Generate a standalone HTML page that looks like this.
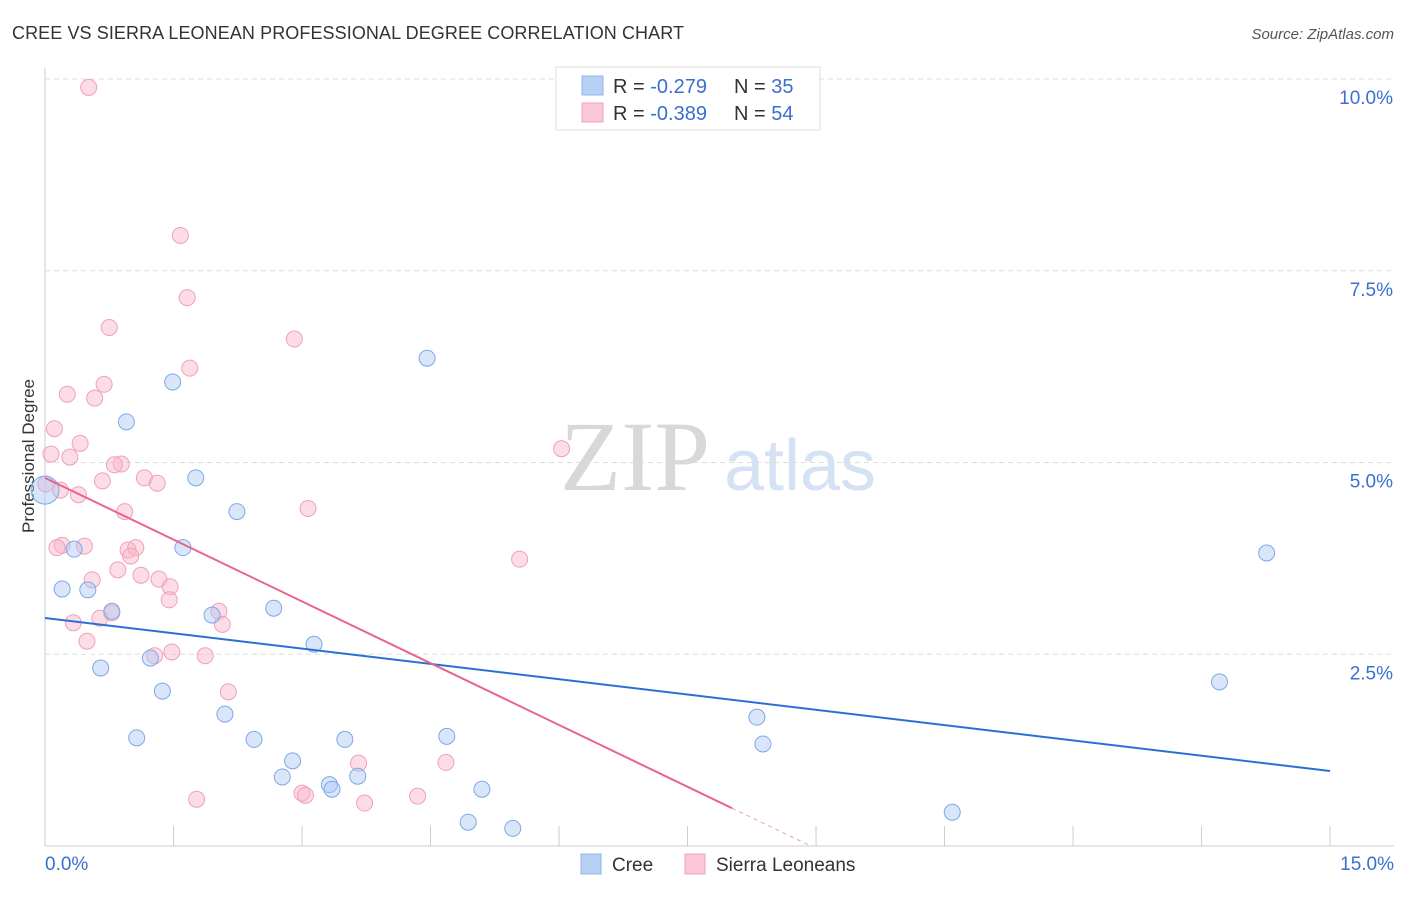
<!DOCTYPE html>
<html><head><meta charset="utf-8"><style>
body{margin:0;background:#fff;font-family:"Liberation Sans",sans-serif;}
</style></head><body>
<svg id="chart" width="1406" height="892" font-family="Liberation Sans, sans-serif">
<text x="12" y="39" font-size="18" fill="#333" textLength="672">CREE VS SIERRA LEONEAN PROFESSIONAL DEGREE CORRELATION CHART</text>
<text x="1394" y="39" font-size="15" fill="#555" font-style="italic" text-anchor="end">Source: ZipAtlas.com</text>
<text x="34" y="456" font-size="17" fill="#333" text-anchor="middle" transform="rotate(-90 34 456)">Professional Degree</text>
<g><text x="635" y="490" font-size="100" fill="#d8d8d8" style="font-family:'Liberation Serif',serif" text-anchor="middle">ZIP</text><text x="800" y="490" font-size="72" fill="#d4e2f4" text-anchor="middle">atlas</text></g>
<g id="grid"></g><g id="marks"></g>
<g>
<rect x="556" y="67" width="264" height="63" fill="#fff" stroke="#ddd"/>
<rect x="582" y="76" width="21" height="19" fill="#b7d1f5" stroke="#8fb5ea"/>
<rect x="582" y="103" width="21" height="19" fill="#fbc8d7" stroke="#f0a0b9"/>
<text x="613" y="93" font-size="20" fill="#333">R = <tspan fill="#3a6fd0">-0.279</tspan></text>
<text x="734" y="93" font-size="20" fill="#333">N = <tspan fill="#3a6fd0">35</tspan></text>
<text x="613" y="120" font-size="20" fill="#333">R = <tspan fill="#3a6fd0">-0.389</tspan></text>
<text x="734" y="120" font-size="20" fill="#333">N = <tspan fill="#3a6fd0">54</tspan></text>
</g>
<g>
<rect x="581" y="854" width="20" height="20" fill="#b7d1f5" stroke="#8fb5ea"/><text x="612" y="871" font-size="19" fill="#333">Cree</text>
<rect x="685" y="854" width="20" height="20" fill="#fbc8d7" stroke="#f0a0b9"/><text x="716" y="871" font-size="19" fill="#333">Sierra Leoneans</text>
</g>
</svg>
<script>
const yTicks=[2.5,5,7.5,10];
const yTickLabels=["2.5%","5.0%","7.5%","10.0%"];
const xTicks=[0,1.5,3,4.5,6,7.5,9,10.5,12,13.5,15];
const creeX=[0,0.2,0.34,0.5,0.65,0.78,0.95,1.07,1.23,1.37,1.49,1.61,1.76,1.95,2.1,2.24,2.44,2.67,2.77,2.89,3.14,3.32,3.35,3.5,3.65,4.46,4.69,4.94,5.1,5.46,8.31,8.38,10.59,13.71,14.26];
const creeY=[4.64,3.35,3.87,3.34,2.32,3.06,5.53,1.41,2.45,2.02,6.05,3.89,4.8,3.01,1.72,4.36,1.39,3.1,0.9,1.11,2.63,0.8,0.74,1.39,0.91,6.36,1.43,0.31,0.74,0.23,1.68,1.33,0.44,2.14,3.82];
const slX=[0.51,1.58,1.66,0.75,2.91,1.69,0.69,0.26,0.58,0.11,0.41,0.07,0.29,6.03,0.89,0.81,1.16,0.67,1.31,0.01,0.18,0.39,0.93,3.07,0.2,0.46,0.14,0.97,1.06,1.0,5.54,0.85,1.12,0.55,1.33,1.46,2.03,0.78,1.45,0.64,0.33,2.07,0.49,1.48,1.28,1.87,2.14,3.66,4.68,3.0,3.04,4.35,1.77,3.73];
const slY=[9.89,7.96,7.15,6.76,6.61,6.23,6.02,5.89,5.84,5.44,5.25,5.11,5.07,5.18,4.98,4.97,4.8,4.76,4.73,4.72,4.64,4.58,4.36,4.4,3.92,3.91,3.89,3.86,3.89,3.78,3.74,3.6,3.53,3.47,3.48,3.38,3.06,3.04,3.21,2.97,2.91,2.89,2.67,2.53,2.48,2.48,2.01,1.08,1.09,0.69,0.66,0.65,0.61,0.56];
const creeTrend=[2.973,0.978];
const slTrend=[4.80,-0.537];
const X=v=>45+v*85.67, Y=v=>846-v*76.7;
const NS="http://www.w3.org/2000/svg";
function mk(t,a,p){const e=document.createElementNS(NS,t);for(const k in a)e.setAttribute(k,a[k]);p.appendChild(e);return e;}
const g=document.getElementById('grid'),m=document.getElementById('marks');
yTicks.forEach((t,i)=>{
 const l=mk('line',{x1:45,x2:1394,y1:Y(t),y2:Y(t),stroke:'#ddd','stroke-dasharray':'5,4'},g);
 
 
 const tx=mk('text',{x:1393,y:Y(t)+25,'font-size':19,fill:'#3a6fd0','text-anchor':'end'},g);tx.textContent=yTickLabels[i];
 
 
});
const ax=mk('line',{x1:45,x2:45,y1:68,y2:846,stroke:'#ccc'},g);


const bx=mk('line',{x1:45,x2:1394,y1:846,y2:846,stroke:'#ccc'},g);


xTicks.forEach(t=>{const l=mk('line',{x1:X(t),x2:X(t),y1:826,y2:846,stroke:'#ccc'},g);
 
 });
[[0,'0.0%','start',45],[15,'15.0%','end',1394]].forEach(d=>{const t=mk('text',{x:d[3],y:870,'font-size':19,fill:'#3a6fd0','text-anchor':d[2]},g);t.textContent=d[1];
 
 });
slX.forEach((x,i)=>{const c=mk('circle',{cx:X(x),cy:Y(slY[i]),r:8,fill:'rgba(248,180,200,0.45)',stroke:'#f0a0b9','stroke-width':1},m);
 
 });
creeX.forEach((x,i)=>{const c=mk('circle',{cx:X(x),cy:Y(creeY[i]),r:i==0?14:8,fill:'rgba(170,200,245,0.45)',stroke:'#7ea8e6','stroke-width':1},m);
 
 });
const ct=mk('line',{x1:X(0),y1:Y(creeTrend[0]),x2:X(15),y2:Y(creeTrend[1]),stroke:'#2a6fd6','stroke-width':2},m);


const xe=8.02, xz=-slTrend[0]/slTrend[1];
const st=mk('line',{x1:X(0),y1:Y(slTrend[0]),x2:X(xe),y2:Y(slTrend[0]+slTrend[1]*xe),stroke:'#e8648f','stroke-width':2},m);


const sd=mk('line',{x1:X(xe),y1:Y(slTrend[0]+slTrend[1]*xe),x2:X(xz),y2:Y(0),stroke:'#e8a0b5','stroke-width':1,'stroke-dasharray':'4,4'},m);


</script>
</body></html>
